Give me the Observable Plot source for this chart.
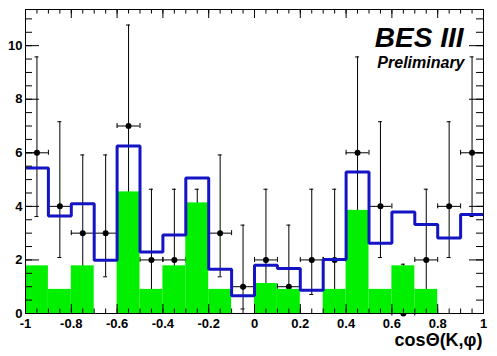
<!DOCTYPE html>
<html>
<head>
<meta charset="utf-8">
<script src="https://cdn.jsdelivr.net/npm/d3@7"></script>
<script src="https://cdn.jsdelivr.net/npm/@observablehq/plot@0.6"></script>
<style>
  html, body { margin: 0; padding: 0; background: #fff; }
  #chart svg { display: block; background: #fff; }
</style>
</head>
<body>
<div id="chart"></div>
<script>
// ---- data ----
const binCenters = [-0.95,-0.85,-0.75,-0.65,-0.55,-0.45,-0.35,-0.25,-0.15,-0.05,
                     0.05, 0.15, 0.25, 0.35, 0.45, 0.55, 0.65, 0.75, 0.85, 0.95];
const dataCounts = [6,4,3,3,7,2,2,2,3,1,2,1,2,2,6,4,0,2,4,6];
const dataErrLow  = [3.62,2.09,1.37,1.37,4.42,0.71,0.71,0.71,1.37,0.17,
                     0.71,0.17,0.71,0.71,3.62,2.09,0.00,0.71,2.09,3.62];
const dataErrHigh = [9.58,7.16,5.92,5.92,10.77,4.64,4.64,4.64,5.92,3.30,
                     4.64,3.30,4.64,4.64,9.58,7.16,1.84,4.64,7.16,9.58];
const mcTotal  = [5.43,3.64,4.10,1.99,6.25,2.30,2.93,5.06,1.65,0.66,
                  1.80,1.68,0.87,2.02,5.28,2.62,3.79,3.32,2.82,3.70];
const mcSignal = [1.78,0.90,1.78,0.00,4.54,0.90,1.78,4.13,0.90,0.00,
                  1.12,0.90,0.00,0.90,3.85,0.90,1.78,0.90,0.00,0.00];
const xTickLabels = ["-1","-0.8","-0.6","-0.4","-0.2","0","0.2","0.4","0.6","0.8","1"];
const yTickLabels = ["0","2","4","6","8","10"];
const xTitle = "cos\u0398(K,\u03c6)";
const titleText = "BES III";
const subtitleText = "Preliminary";
const binWidth = 0.1;
const xDomain = [-1, 1];
const yDomain = [0, 11.35];

// ---- derived tables ----
const bins = binCenters.map((c, i) => ({
  c, x1: c - binWidth / 2, x2: c + binWidth / 2,
  n: dataCounts[i], lo: dataErrLow[i], hi: dataErrHigh[i],
  tot: mcTotal[i], sig: mcSignal[i]
}));
const stepLine = bins.map(b => ({x: b.x1, y: b.tot}))
  .concat([{x: bins[bins.length - 1].x2, y: bins[bins.length - 1].tot}]);
const xMajor = xTickLabels.map(Number);
const yMajor = yTickLabels.map(Number);
const xMinor = d3.ticks(xDomain[0], xDomain[1], 40);
const yMinor = d3.ticks(0, 11, 22);

const font = "'Liberation Sans', Arial, Helvetica, sans-serif";
const tickStyle = {stroke: "#000", strokeWidth: 1};

const chart = Plot.plot({
  width: 497,
  height: 356,
  marginLeft: 25,
  marginRight: 14,
  marginTop: 9,
  marginBottom: 43,
  style: {fontFamily: font, background: "#fff", overflow: "visible"},
  x: {domain: xDomain, axis: null},
  y: {domain: yDomain, axis: null},
  marks: [
    // data error bars
    Plot.ruleX(bins, {x: "c", y1: "lo", y2: "hi", stroke: "#000", strokeWidth: 1}),
    Plot.ruleY(bins, {y: "n", x1: "x1", x2: "x2", stroke: "#000", strokeWidth: 1}),
    Plot.ruleY(bins, {y: "hi", x1: "c", x2: "c", insetLeft: -2, insetRight: -2, stroke: "#000"}),
    Plot.ruleY(bins, {y: "lo", x1: "c", x2: "c", insetLeft: -2, insetRight: -2, stroke: "#000"}),
    Plot.ruleX(bins, {x: "x1", y1: "n", y2: "n", insetTop: -2.5, insetBottom: -2.5, stroke: "#000"}),
    Plot.ruleX(bins, {x: "x2", y1: "n", y2: "n", insetTop: -2.5, insetBottom: -2.5, stroke: "#000"}),
    Plot.dot(bins, {x: "c", y: "n", r: 3, fill: "#000", stroke: "none"}),
    // green histogram
    Plot.rectY(bins, {x1: "x1", x2: "x2", y1: 0, y2: "sig", fill: "#00f000"}),
    // blue histogram outline
    Plot.line(stepLine, {x: "x", y: "y", curve: "step-after", stroke: "#1414c4",
                         strokeWidth: 3, strokeLinejoin: "miter", strokeLinecap: "butt"}),
    // inward ticks: bottom
    Plot.ruleX(xMinor, {x: d => d, y1: yDomain[0], y2: yDomain[0], insetTop: -4.5, ...tickStyle}),
    Plot.ruleX(xMajor, {x: d => d, y1: yDomain[0], y2: yDomain[0], insetTop: -9, ...tickStyle}),
    // top
    Plot.ruleX(xMinor, {x: d => d, y1: yDomain[1], y2: yDomain[1], insetBottom: -4.5, ...tickStyle}),
    Plot.ruleX(xMajor, {x: d => d, y1: yDomain[1], y2: yDomain[1], insetBottom: -9, ...tickStyle}),
    // left
    Plot.ruleY(yMinor, {y: d => d, x1: xDomain[0], x2: xDomain[0], insetRight: -7, ...tickStyle}),
    Plot.ruleY(yMajor, {y: d => d, x1: xDomain[0], x2: xDomain[0], insetRight: -14, ...tickStyle}),
    // right
    Plot.ruleY(yMinor, {y: d => d, x1: xDomain[1], x2: xDomain[1], insetLeft: -7, ...tickStyle}),
    Plot.ruleY(yMajor, {y: d => d, x1: xDomain[1], x2: xDomain[1], insetLeft: -14, ...tickStyle}),
    Plot.frame({stroke: "#000", strokeWidth: 1}),
    // axis labels
    Plot.axisX({ticks: xMajor, tickSize: 0, tickPadding: 5, label: null,
                tickFormat: (d, i) => xTickLabels[i], fontSize: 13, fontWeight: "bold", fill: "#000"}),
    Plot.axisY({ticks: yMajor, tickSize: 0, tickPadding: 3, label: null,
                tickFormat: (d, i) => yTickLabels[i], fontSize: 13, fontWeight: "bold", fill: "#000"}),
    // axis title
    Plot.text([xTitle], {frameAnchor: "bottom-right", text: d => d, dx: -1, dy: 27.2,
                         textAnchor: "end", lineAnchor: "middle",
                         fontSize: 18, fontWeight: "bold", fill: "#000"}),
    // annotations
    Plot.text([titleText], {frameAnchor: "top-right", text: d => d, dx: -20, dy: 28.7,
                            textAnchor: "end", lineAnchor: "middle",
                            fontSize: 28, fontWeight: "bold", fontStyle: "italic", fill: "#000"}),
    Plot.text([subtitleText], {frameAnchor: "top-right", text: d => d, dx: -19, dy: 53,
                               textAnchor: "end", lineAnchor: "middle",
                               fontSize: 16, fontWeight: "bold", fontStyle: "italic", fill: "#000"})
  ]
});
document.getElementById("chart").appendChild(chart);
</script>
</body>
</html>
